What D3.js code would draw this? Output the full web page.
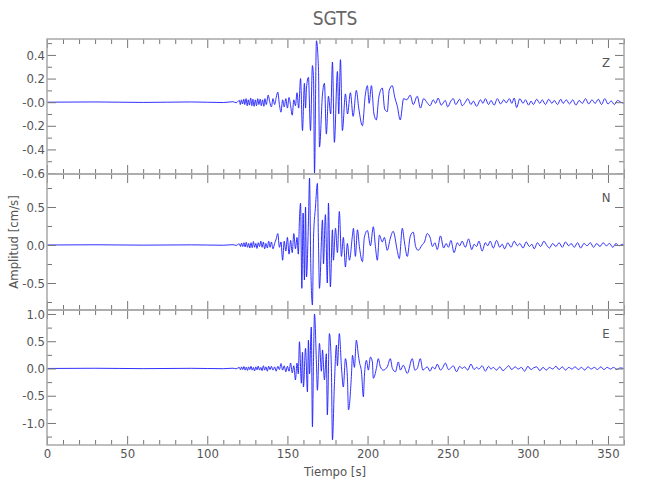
<!DOCTYPE html>
<html><head><meta charset="utf-8">
<script src="https://cdn.jsdelivr.net/npm/d3@7"></script>
<style>
html,body{margin:0;padding:0;background:#fff;}
svg{display:block;}
svg text{font-family:'Liberation Sans Narrow','DejaVu Sans',sans-serif;font-stretch:condensed;}
</style></head>
<body><svg id="chart" width="650" height="500"></svg>
<script>
// ---------- DATA ----------
const title = "SGTS";
const channels = ["Z", "N", "E"];
const xLabel = "Tiempo  [s]";
const yLabel = "Amplitud  [cm/s]";
const xMajorTicks = [0, 50, 100, 150, 200, 250, 300, 350];
const xMinorTicks = [10,20,30,40,60,70,80,90,110,120,130,140,160,170,180,190,210,220,230,240,260,270,280,290,310,320,330,340,360];

const zDomain = [-0.608, 0.535];
const nDomain = [-0.855, 0.934];
const eDomain = [-1.404, 1.073];

const zMajorTicks = [-0.6, -0.4, -0.2, 0, 0.2, 0.4];
const zTickLabels = ["-0.6", "-0.4", "-0.2", "-0.0", "0.2", "0.4"];
const zMinorTicks = [-0.5, -0.3, -0.1, 0.1, 0.3, 0.5];
const nMajorTicks = [-0.5, 0, 0.5];
const nTickLabels = ["-0.5", "0.0", "0.5"];
const nMinorTicks = [-0.75, -0.25, 0.25, 0.75];
const eMajorTicks = [-1, -0.5, 0, 0.5, 1];
const eTickLabels = ["-1.0", "-0.5", "0.0", "0.5", "1.0"];
const eMinorTicks = [-1.25, -0.75, -0.25, 0.25, 0.75];

// [time s, amplitude cm/s]
const traceZ = [[0,0],[30,0.002],[60,-0.002],[90,0.002],[110,-0.003],[116,0.004],[118,-0.005],
[120,0.015],[120.6,-0.02],[121.3,0.02],[122,-0.015],[122.8,0.025],[123.4,-0.02],[124.2,0.03],[124.9,-0.03],[125.6,0.02],[126.3,-0.025],[127.1,0.035],[127.8,-0.03],[128.5,0.025],[129.2,-0.035],[130,0.02],[130.7,-0.03],[131.5,0.03],[132.2,-0.02],[133,0.025],[133.7,-0.03],[134.5,0.02],[135.3,-0.035],[136,0.03],[136.8,-0.02],[138,0.06],[139,0.0],[140,-0.04],[141,0.03],[142,-0.02],[143,0.04],[144,0.085],[145,-0.02],[146,-0.085],[147,0.02],[148,-0.04],[149,0.03],[150,-0.05],[151,0.04],[152,-0.03],[153,-0.11],[154,0.02],[155,-0.03],[156,0.08],[157,-0.05],
[158.2,0.2],[159.4,-0.24],[160.6,0.16],[161.3,-0.05],[161.9,0.12],[163.1,0.21],[164.4,-0.24],[165.6,0.31],[166.3,0.2],[166.9,-0.6],[168.1,0.52],[169.4,0.27],[170.0,-0.38],[171.9,0.07],[173.1,0.16],[174.3,-0.27],[175.6,0.05],[177.0,-0.1],[178.1,0.34],[179.3,-0.34],[181.2,0.26],[182.0,-0.1],[183.1,0.36],[184.3,-0.24],[186.2,0.07],[187.5,-0.1],[189.3,0.08],[191,-0.12],[193.0,0.1],[194.5,-0.05],[196.8,-0.2],[198.5,0.05],[199.9,0.14],[201,-0.01],[202.4,0.14],[204,-0.1],[205.5,-0.15],[207,0.04],[209.2,0.12],[210.7,-0.06],[212.3,-0.08],[213.5,0.1],[215.4,0.14],[217,0.04],[218.5,-0.03],[220.4,-0.15],[222.5,0.03],[224.5,0.02],[226.6,0.06],[228.5,-0.02],[231,0.05],[233,-0.05],[235,0.03],[237.2,-0.005],
[239,-0.03],[241,0.02],[242.5,-0.01],[244,0.035],[246,-0.025],[248.5,0.015],[250,-0.04],[252,0.01],[253.5,0.03],[255,-0.02],[257.5,0.025],[259,-0.03],[261,0.0],[262.5,0.03],[264.5,-0.02],[266,0.01],[268,-0.035],[270.5,0.02],[272,-0.01],[273.5,0.03],[275.5,-0.02],[277,0.015],[279,-0.025],[281,0.03],[283,-0.015],[285,0.02],[286.5,-0.005],[288.5,0.03],[290,-0.01],[291.5,0.035],[293,-0.045],[295,0.03],[297,-0.01],[298.5,0.02],[300.5,-0.025],[302,0.01],[303.5,-0.02],[305.5,0.025],[307.5,-0.01],[309,0.02],[311,-0.02],[313,0.025],[315,-0.01],[316.5,0.015],[318.5,-0.02],[320.5,0.025],[322,-0.01],[324,0.02],[326,-0.015],[328,0.02],[330,-0.025],[332,0.015],[334,-0.01],[336,0.03],[338,-0.015],[340,0.02],[342,-0.01],[344,0.025],[346,-0.02],[348,0.03],[350,-0.015],[352,0.01],[354,-0.02],[356,0.015],[358,0.0],[360,-0.01]];

const traceN = [[0,0],[30,0.003],[60,-0.002],[90,0.002],[110,-0.003],[116,0.004],[118,-0.005],
[120,0.015],[120.7,-0.02],[121.4,0.025],[122.1,-0.02],[122.9,0.03],[123.6,-0.025],[124.3,0.035],[125.1,-0.03],[125.8,0.02],[126.5,-0.04],[127.3,0.03],[128,-0.035],[128.8,0.045],[129.5,-0.03],[130.3,0.02],[131,-0.045],[131.8,0.03],[132.6,-0.02],[133.4,0.05],[134.2,-0.03],[135,0.04],[135.8,-0.05],[136.6,0.02],[137.5,-0.04],[138.3,0.05],[139.2,-0.03],[140,0.04],[141,-0.05],[142,0.02],[143,0.08],[144,0.15],[145,-0.03],[146,0.04],[147,-0.2],[148,0.05],[149,-0.08],[150,0.1],[151,-0.12],[152,0.06],[153,-0.1],[154,0.15],[155,-0.05],[156,0.1],[156.8,-0.12],
[157.5,0.33],[158.2,0.55],[159.0,-0.57],[159.8,0.42],[160.6,-0.46],[161.3,0.5],[161.9,-0.42],[163.1,0.29],[163.8,0.88],[164.6,-0.3],[165.6,-0.79],[166.3,0.1],[167.5,0.5],[168.7,0.81],[169.4,0],[170.0,-0.57],[171.9,0.33],[172.5,-0.25],[173.7,0.4],[174.9,-0.5],[175.6,0.55],[176.8,-0.55],[178.1,0.2],[178.7,-0.2],[180,0.22],[181.2,-0.1],[182.4,0.44],[183.7,-0.15],[184.9,0.1],[186.2,-0.29],[187.4,0.02],[188.7,-0.2],[190.6,0.13],[191.2,0.22],[192.4,-0.15],[193.7,0.2],[194.9,-0.02],[196.8,-0.22],[198,0.1],[199.9,0.19],[201.8,-0.01],[203.6,0.24],[204.9,-0.02],[206.1,-0.2],[207.4,0.13],[209.2,0.04],[210.5,0.1],[212.3,-0.07],[214.2,0.09],[216,0.18],[218.5,-0.07],[219.8,-0.18],[221.7,0.22],[223,0.04],[224.8,-0.15],[226.6,0.11],[228.5,0.17],[230,-0.02],[231.6,-0.07],[234,0.0],[235.5,0.04],[237.2,0.15],
[239,0.1],[240.5,-0.02],[242,0.03],[243.5,-0.06],[245.5,0.12],[247.5,-0.04],[249,0.02],[250.5,-0.03],[252,0.06],[254,-0.1],[256,0.03],[257.5,-0.01],[259,0.05],[261,-0.03],[263,0.08],[265,-0.06],[266.5,0.01],[268,-0.02],[269.5,0.05],[271.5,-0.08],[273.5,0.03],[275,-0.01],[276.5,0.05],[278.5,-0.04],[280.5,0.06],[282.5,-0.03],[284,0.01],[285.5,-0.05],[287.5,0.03],[289.5,-0.03],[291.5,0.05],[293.5,-0.01],[295,0.02],[297,-0.04],[299,0.04],[301,-0.02],[302.5,0.01],[304,-0.05],[306,0.03],[308,-0.02],[310,0.05],[312,-0.01],[313.5,-0.04],[315.5,0.02],[317.5,-0.02],[319.5,0.03],[321.5,-0.03],[323.5,0.04],[325.5,-0.01],[327,0.02],[329,-0.03],[331,0.03],[333,-0.04],[335,0.02],[337,-0.01],[339,0.03],[341,-0.03],[343,0.02],[345,-0.02],[347,0.03],[349,-0.01],[351,0.02],[353,-0.03],[355,0.02],[357,-0.01],[359,0.01],[360,0]];

const traceE = [[0,0],[30,0.004],[60,-0.003],[90,0.003],[110,-0.004],[116,0.005],[118,-0.006],
[120,0.02],[120.7,-0.025],[121.4,0.03],[122.1,-0.02],[122.9,0.035],[123.6,-0.03],[124.3,0.025],[125.1,-0.035],[125.8,0.03],[126.5,-0.02],[127.3,0.04],[128,-0.03],[128.8,0.02],[129.5,-0.045],[130.3,0.03],[131,-0.025],[131.8,0.045],[132.6,-0.03],[133.4,0.02],[134.2,-0.04],[135,0.05],[135.8,-0.03],[136.6,0.03],[137.5,-0.05],[138.3,0.04],[139.2,-0.02],[140,0.04],[141,-0.03],[142,0.03],[143,-0.05],[144,0.04],[145,-0.02],[146,0.09],[147,-0.03],[148,0.05],[149,-0.06],[150,0.04],[151,-0.05],[152,0.1],[153,-0.08],[154,0.05],[155,-0.21],[156,0.1],[156.8,-0.1],
[157.5,0.49],[158.7,-0.27],[159.4,0.3],[160.0,-0.34],[161.3,0.37],[162.5,-0.43],[163.1,0.52],[163.8,-0.1],[164.9,0.76],[165.6,-1.07],[166.3,0.2],[166.9,1.0],[168.1,0.1],[168.7,-0.4],[170.0,0.46],[171.2,-0.05],[171.9,0.34],[173.1,-0.21],[174.3,0.27],[174.9,-0.85],[176.2,0.64],[177.4,0.05],[178.1,-1.31],[179.3,-0.3],[180.6,0.43],[181.2,0.05],[182.4,0.64],[183.7,0.03],[184.9,-0.34],[186.2,0.18],[187.4,-0.15],[188.1,-0.76],[189.9,-0.15],[190.6,0.24],[191.8,0.02],[193.0,0.52],[194.3,0.24],[194.9,0.12],[196.2,-0.06],[197.4,-0.52],[198,-0.15],[199.3,0.15],[200.5,-0.03],[201.8,0.21],[203,0.12],[203.6,-0.18],[205.5,0.0],[206.7,0.18],[208,0.03],[209.8,-0.03],[212.3,0.03],[214.2,0.18],[215.5,0.0],[217.4,-0.06],[219.2,0.12],[220.5,-0.03],[222.3,0.06],[224.8,-0.09],[227.9,0.18],[229.5,-0.03],[231,0.0],[232.9,0.18],[234.5,-0.03],[237.2,0.03],
[239,-0.05],[240.5,0.03],[242,-0.01],[243.5,0.08],[245.5,-0.03],[247,0.02],[248.5,0.1],[250.5,-0.02],[252,0.01],[253.5,0.05],[255.5,-0.06],[257.5,0.04],[259,0.0],[260.5,0.03],[262.5,-0.03],[264.5,0.08],[266.5,-0.02],[268,0.02],[269.5,-0.01],[271.5,0.05],[273.5,-0.05],[275.5,0.04],[277,-0.01],[278.5,0.02],[280.5,-0.03],[282.5,0.03],[284.5,-0.04],[286.5,0.01],[288,0.05],[290,-0.02],[292,0.03],[294,-0.01],[296,0.02],[298,-0.05],[300,0.04],[302,-0.02],[303.5,0.01],[305.5,0.03],[307.5,-0.04],[309.5,0.02],[311.5,-0.03],[313.5,0.02],[315.5,-0.01],[317.5,0.04],[319.5,-0.02],[321.5,0.03],[323.5,-0.03],[325.5,0.02],[327.5,-0.01],[329.5,0.03],[331.5,-0.02],[333.5,0.02],[335.5,-0.03],[337.5,0.03],[339.5,-0.01],[341.5,0.02],[343.5,-0.02],[345.5,0.03],[347.5,-0.02],[349.5,0.02],[351.5,-0.01],[353.5,0.02],[355.5,-0.02],[357.5,0.01],[360,0]];

// ---------- LAYOUT ----------
const left = 47, right = 624;
const panelTops = [39, 174, 310];
const panelBottoms = [174, 310, 445];
const frameColor = "#a8a8a8", tickColor = "#777", textColor = "#555", lineColor = "#1a1aff";

const svg = d3.select("#chart");
const x = d3.scaleLinear().domain([0, 360]).range([left, right]);

const panels = [
  {name: channels[0], data: traceZ, domain: zDomain, major: zMajorTicks, labels: zTickLabels, minor: zMinorTicks},
  {name: channels[1], data: traceN, domain: nDomain, major: nMajorTicks, labels: nTickLabels, minor: nMinorTicks},
  {name: channels[2], data: traceE, domain: eDomain, major: eMajorTicks, labels: eTickLabels, minor: eMinorTicks}
];

function styleAxis(g) {
  g.select(".domain").remove();
  g.selectAll(".tick line").attr("stroke", tickColor).attr("stroke-width", 1);
  g.selectAll(".tick text").attr("fill", textColor).attr("font-size", null).attr("font-family", null)
    .style("font-size", "13px");
}

panels.forEach((p, i) => {
  const top = panelTops[i], bottom = panelBottoms[i];
  const y = d3.scaleLinear().domain(p.domain).range([bottom, top]);

  svg.append("clipPath").attr("id", "clip" + i)
    .append("rect").attr("x", left).attr("y", top).attr("width", right - left).attr("height", bottom - top);

  const line = d3.line().x(d => x(d[0])).y(d => y(d[1])).curve(d3.curveMonotoneX);
  svg.append("path").datum(p.data)
    .attr("clip-path", "url(#clip" + i + ")")
    .attr("fill", "none").attr("stroke", lineColor).attr("stroke-width", 0.9)
    .attr("stroke-linejoin", "round")
    .attr("d", line);

  svg.append("g").attr("transform", `translate(${left},0)`)
    .call(d3.axisLeft(y).tickValues(p.major).tickSize(-9).tickPadding(2).tickFormat((d, k) => p.labels[k]))
    .call(styleAxis);
  svg.append("g").attr("transform", `translate(${left},0)`)
    .call(d3.axisLeft(y).tickValues(p.minor).tickSize(-5).tickFormat(""))
    .call(styleAxis);
  svg.append("g").attr("transform", `translate(${right},0)`)
    .call(d3.axisRight(y).tickValues(p.major).tickSize(-9).tickFormat(""))
    .call(styleAxis);
  svg.append("g").attr("transform", `translate(${right},0)`)
    .call(d3.axisRight(y).tickValues(p.minor).tickSize(-5).tickFormat(""))
    .call(styleAxis);

  svg.append("g").attr("transform", `translate(0,${top})`)
    .call(d3.axisTop(x).tickValues(xMajorTicks).tickSize(-9).tickFormat(""))
    .call(styleAxis);
  svg.append("g").attr("transform", `translate(0,${top})`)
    .call(d3.axisTop(x).tickValues(xMinorTicks).tickSize(-5).tickFormat(""))
    .call(styleAxis);
  svg.append("g").attr("transform", `translate(0,${bottom})`)
    .call(d3.axisBottom(x).tickValues(xMajorTicks).tickSize(-9).tickPadding(4)
      .tickFormat(i === 2 ? d3.format("d") : ""))
    .call(styleAxis);
  svg.append("g").attr("transform", `translate(0,${bottom})`)
    .call(d3.axisBottom(x).tickValues(xMinorTicks).tickSize(-5).tickFormat(""))
    .call(styleAxis);

  svg.append("rect").attr("x", left).attr("y", top).attr("width", right - left).attr("height", bottom - top)
    .attr("fill", "none").attr("stroke", frameColor).attr("stroke-width", 1.5);

  svg.append("text").attr("x", 606).attr("y", top + 28)
    .attr("text-anchor", "middle").attr("fill", textColor).style("font-size", "13px")
    .text(p.name);
});

svg.append("text").attr("x", 335).attr("y", 25).attr("text-anchor", "middle")
  .attr("fill", "#666").style("font-size", "19px").text(title);
svg.append("text").attr("x", 335).attr("y", 476).attr("text-anchor", "middle")
  .attr("fill", textColor).style("font-size", "13px").text(xLabel);
svg.append("text").attr("transform", "translate(18,242) rotate(-90)").attr("text-anchor", "middle")
  .attr("fill", textColor).style("font-size", "13px").text(yLabel);
</script>
</body></html>
